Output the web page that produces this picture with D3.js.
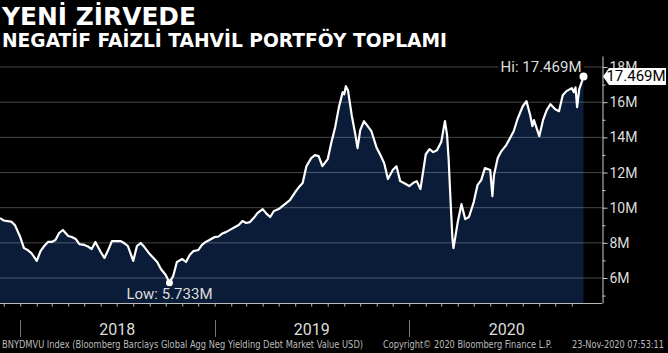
<!DOCTYPE html>
<html>
<head>
<meta charset="utf-8">
<script src="https://cdn.jsdelivr.net/npm/d3@7"></script>
<style>
  body { margin: 0; background: #000; }
</style>
</head>
<body>
<div id="chart"></div>
<script>
// BNYDMVU index, market value in million USD
var dates = [
  "2017-11-24","2017-12-01","2017-12-08","2017-12-15","2017-12-22",
  "2018-01-01","2018-01-08","2018-01-15","2018-01-22","2018-02-01","2018-02-08","2018-02-15","2018-02-22",
  "2018-03-01","2018-03-08","2018-03-15","2018-03-22","2018-04-01","2018-04-08","2018-04-15","2018-04-22",
  "2018-05-01","2018-05-08","2018-05-15","2018-05-22","2018-06-01","2018-06-08","2018-06-15","2018-06-22",
  "2018-07-01","2018-07-08","2018-07-15","2018-07-22","2018-08-01","2018-08-08","2018-08-15","2018-08-22",
  "2018-09-01","2018-09-08","2018-09-15","2018-09-22","2018-10-01","2018-10-08","2018-10-15","2018-10-22",
  "2018-11-01","2018-11-08","2018-11-15","2018-11-22","2018-12-01","2018-12-08","2018-12-15","2018-12-22",
  "2019-01-01","2019-01-08","2019-01-15","2019-01-22","2019-02-01","2019-02-08","2019-02-15","2019-02-22",
  "2019-03-01","2019-03-08","2019-03-15","2019-03-22","2019-04-01","2019-04-08","2019-04-15","2019-04-22",
  "2019-05-01","2019-05-08","2019-05-15","2019-05-22","2019-06-01","2019-06-08","2019-06-15","2019-06-22",
  "2019-07-01","2019-07-08","2019-07-15","2019-07-22","2019-08-01","2019-08-08","2019-08-15","2019-08-22",
  "2019-08-29","2019-09-01","2019-09-04","2019-09-08","2019-09-15","2019-09-22","2019-09-26",
  "2019-10-01","2019-10-08","2019-10-15","2019-10-22","2019-11-01","2019-11-08","2019-11-15","2019-11-22",
  "2019-12-01","2019-12-08","2019-12-15","2019-12-22",
  "2020-01-01","2020-01-08","2020-01-15","2020-01-22","2020-02-01","2020-02-08","2020-02-15","2020-02-22",
  "2020-03-01","2020-03-05","2020-03-08","2020-03-12","2020-03-15","2020-03-18","2020-03-22","2020-03-24",
  "2020-04-01","2020-04-08","2020-04-15","2020-04-22","2020-05-01","2020-05-08","2020-05-15","2020-05-22",
  "2020-06-01","2020-06-05","2020-06-08","2020-06-15","2020-06-22","2020-07-01","2020-07-08","2020-07-15","2020-07-22",
  "2020-08-01","2020-08-08","2020-08-15","2020-08-19","2020-08-22","2020-09-01","2020-09-08","2020-09-15","2020-09-22",
  "2020-10-01","2020-10-08","2020-10-15","2020-10-22","2020-11-01","2020-11-05","2020-11-08","2020-11-11",
  "2020-11-15","2020-11-19","2020-11-23"
];
var values = [
  9.41, 9.27, 9.24, 9.21, 9.01,
  8.33, 7.70, 7.59, 7.42, 6.97, 7.53, 7.82, 8.05,
  8.05, 8.16, 8.56, 8.73, 8.39, 8.33, 8.22, 7.93,
  7.88, 7.79, 7.65, 8.05, 7.48, 7.14, 7.59, 8.10,
  8.10, 8.10, 7.99, 7.82, 6.97, 7.82, 7.99, 7.76,
  7.36, 7.14, 6.91, 6.51, 6.17, 5.733, 6.11, 6.91,
  7.08, 6.91, 7.31, 7.53, 7.59, 7.88, 8.05, 8.16,
  8.33, 8.36, 8.53, 8.61, 8.78, 8.90, 9.01, 9.24,
  9.13, 9.18, 9.41, 9.69, 9.92, 9.66, 9.47, 9.81,
  9.92, 10.09, 10.26, 10.43, 10.89, 11.17, 11.40, 12.36,
  12.82, 12.99, 12.93, 12.36, 12.76, 13.73, 14.58, 15.72,
  16.57, 16.45, 16.91, 16.68, 15.26, 14.13, 13.39,
  14.41, 14.92, 14.64, 14.35, 13.39, 12.99, 12.53, 11.63,
  12.14, 12.36, 11.51, 11.40,
  11.23, 11.40, 11.51, 11.06, 13.04, 13.33, 13.16, 13.27,
  13.73, 14.41, 14.92, 14.13, 12.70, 10.72, 8.27, 7.70,
  9.18, 10.20, 9.35, 9.47, 10.32, 11.28, 11.57, 12.25,
  12.14, 10.66, 11.85, 12.82, 13.22, 13.56, 13.95, 14.35, 15.03,
  15.77, 16.06, 15.26, 14.64, 14.98, 14.07, 14.98, 15.55, 15.89,
  15.60, 15.49, 16.40, 16.63, 16.80, 16.57, 16.85, 15.72,
  16.74, 17.08, 17.469
];
var yTicks = [6, 8, 10, 12, 14, 16, 18];
var yMinorTicks = [5, 7, 9, 11, 13, 15, 17];
var years = [2018, 2019, 2020];

var title = "YENİ ZİRVEDE";
var subtitle = "NEGATİF FAİZLİ TAHVİL PORTFÖY TOPLAMI";
var sourceText = "BNYDMVU Index (Bloomberg Barclays Global Agg Neg Yielding Debt Market Value USD)";
var copyText = "Copyright© 2020 Bloomberg Finance L.P.";
var stampText = "23-Nov-2020 07:53:11";

var W = 668, H = 353;
var plotTop = 56, plotBottom = 303, axisX = 602;

var parse = d3.timeParse("%Y-%m-%d");
var data = dates.map(function(d, i) { return {date: parse(d), v: values[i]}; });

var svg = d3.select("#chart").append("svg")
  .attr("width", W).attr("height", H)
  .style("background", "#000");

var x = d3.scaleTime()
  .domain([parse("2017-11-24"), parse("2020-11-23")])
  .range([0, 583.5]);

var y = d3.scaleLinear()
  .domain([4.578, 18.628])
  .range([plotBottom, plotTop]);

// area under the line
svg.append("path")
  .datum(data)
  .attr("fill", "#0b1c38")
  .attr("d", d3.area()
    .x(function(d) { return x(d.date); })
    .y0(plotBottom)
    .y1(function(d) { return y(d.v); }));

// gridlines
svg.append("g")
  .selectAll("line")
  .data(yTicks)
  .enter().append("line")
  .attr("x1", 0).attr("x2", axisX)
  .attr("y1", function(d) { return y(d); })
  .attr("y2", function(d) { return y(d); })
  .attr("stroke", "#fff")
  .attr("stroke-opacity", 0.27)
  .attr("stroke-width", 1);

// the line
svg.append("path")
  .datum(data)
  .attr("fill", "none")
  .attr("stroke", "#fff")
  .attr("stroke-width", 2.2)
  .attr("stroke-linejoin", "round")
  .attr("d", d3.line()
    .x(function(d) { return x(d.date); })
    .y(function(d) { return y(d.v); }));

// bottom axis with monthly ticks
svg.append("line")
  .attr("x1", 0).attr("x2", axisX)
  .attr("y1", plotBottom + 0.5).attr("y2", plotBottom + 0.5)
  .attr("stroke", "#bbb");
var xAxis = svg.append("g")
  .attr("transform", "translate(0," + (plotBottom + 0.5) + ")")
  .call(d3.axisBottom(x).ticks(d3.timeMonth.every(1)).tickSize(3).tickFormat(""));
xAxis.select(".domain").remove();
xAxis.selectAll("line").attr("stroke", "#bbb");

// year separators and labels
svg.append("g").selectAll("line")
  .data(years)
  .enter().append("line")
  .attr("x1", function(d) { return Math.round(x(new Date(d, 0, 1))) + 0.5; })
  .attr("x2", function(d) { return Math.round(x(new Date(d, 0, 1))) + 0.5; })
  .attr("y1", 320).attr("y2", 337)
  .attr("stroke", "#777");

svg.append("g").selectAll("text")
  .data(years)
  .enter().append("text")
  .attr("x", function(d) { return x(new Date(d, 6, 2)); })
  .attr("y", 335)
  .attr("text-anchor", "middle")
  .attr("fill", "#ddd")
  .style("font", "16px Roboto, sans-serif")
  .text(function(d) { return d; });

// right axis
var yAxis = svg.append("g")
  .attr("transform", "translate(" + (axisX + 0.5) + ",0)")
  .call(d3.axisRight(y).tickValues(yTicks).tickSize(5).tickSizeOuter(0)
    .tickFormat(function(d) { return d + "M"; }));
yAxis.select(".domain").attr("stroke", "#ccc");
yAxis.selectAll(".tick line").attr("stroke", "#ccc");
yAxis.selectAll(".tick text")
  .attr("x", 7)
  .attr("fill", "#ddd")
  .style("font", "14px Roboto, sans-serif");

var yMinor = svg.append("g")
  .attr("transform", "translate(" + (axisX + 0.5) + ",0)")
  .call(d3.axisRight(y).tickValues(yMinorTicks).tickSize(3).tickFormat(""));
yMinor.select(".domain").remove();
yMinor.selectAll("line").attr("stroke", "#ccc");

// high and low markers
var hi = data[d3.maxIndex(data, function(d) { return d.v; })];
var lo = data[d3.minIndex(data, function(d) { return d.v; })];
var last = data[data.length - 1];
var fmt = d3.format(".3f");

var hiBox = svg.append("rect").attr("fill", "#000");
var hiText = svg.append("text")
  .attr("x", x(hi.date) - 2)
  .attr("y", y(18) + 5)
  .attr("text-anchor", "end")
  .attr("fill", "#ddd")
  .style("font", "15px Roboto, sans-serif")
  .text("Hi: " + fmt(hi.v) + "M");
var hb = hiText.node().getBBox();
hiBox.attr("x", hb.x - 2).attr("y", hb.y)
  .attr("width", hb.width + 4).attr("height", hb.height);

svg.append("circle")
  .attr("cx", x(hi.date)).attr("cy", y(hi.v))
  .attr("r", 4).attr("fill", "#fff");

svg.append("circle")
  .attr("cx", x(lo.date)).attr("cy", y(lo.v))
  .attr("r", 3.5).attr("fill", "#fff");

svg.append("text")
  .attr("x", x(lo.date) - 43)
  .attr("y", y(lo.v) + 16)
  .attr("fill", "#ddd")
  .style("font", "15px Roboto, sans-serif")
  .text("Low: " + fmt(lo.v) + "M");

// last value tag
var ly = y(last.v);
svg.append("path")
  .attr("d", "M" + (axisX + 1) + "," + ly +
    " L" + (axisX + 7) + "," + (ly - 8.5) +
    " L666," + (ly - 8.5) +
    " L666," + (ly + 8.5) +
    " L" + (axisX + 7) + "," + (ly + 8.5) + "Z")
  .attr("fill", "#fff");
svg.append("text")
  .attr("x", 636).attr("y", ly + 5)
  .attr("text-anchor", "middle")
  .attr("fill", "#000")
  .style("font", "15px Roboto, sans-serif")
  .text(fmt(last.v) + "M");

// titles
svg.append("text")
  .attr("x", 2).attr("y", 25)
  .attr("fill", "#fff")
  .attr("textLength", 194).attr("lengthAdjust", "spacingAndGlyphs")
  .style("font", "bold 24px 'DejaVu Sans', Verdana, sans-serif")
  .text(title);
svg.append("text")
  .attr("x", 2).attr("y", 46.5)
  .attr("fill", "#fff")
  .attr("textLength", 445).attr("lengthAdjust", "spacingAndGlyphs")
  .style("font", "bold 19px 'DejaVu Sans', Verdana, sans-serif")
  .text(subtitle);

// footer
var foot = [
  {t: sourceText, x: 2, w: 361},
  {t: copyText, x: 383, w: 169},
  {t: stampText, x: 572, w: 92}
];
svg.append("g").selectAll("text")
  .data(foot)
  .enter().append("text")
  .attr("x", function(d) { return d.x; })
  .attr("y", 348)
  .attr("textLength", function(d) { return d.w; })
  .attr("lengthAdjust", "spacingAndGlyphs")
  .attr("fill", "#bbb")
  .style("font", "10px 'DejaVu Sans Condensed', 'DejaVu Sans', sans-serif")
  .text(function(d) { return d.t; });
</script>
</body>
</html>
